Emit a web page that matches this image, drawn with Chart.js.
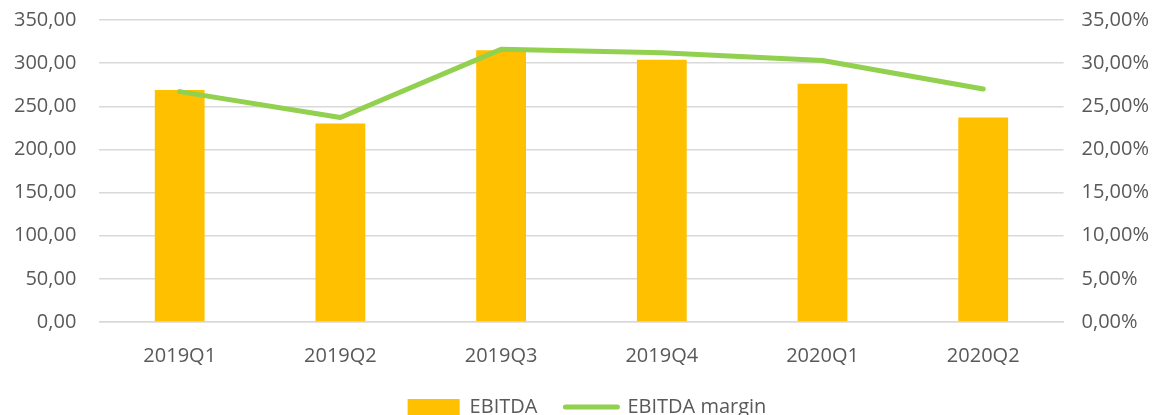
<!DOCTYPE html>
<html>
<head>
<meta charset="utf-8">
<script src="https://cdn.jsdelivr.net/npm/chart.js@4/dist/chart.umd.min.js"></script>
<style>
    html, body { margin: 0; padding: 0; background: #fff; overflow: hidden; }
    #wrap { width: 1158px; height: 427px; }
</style>
</head>
<body>
<div id="wrap"><canvas id="ebitda-chart" width="1158" height="427"></canvas></div>
<script>
const quarters = ['2019Q1', '2019Q2', '2019Q3', '2019Q4', '2020Q1', '2020Q2']
const ebitda = [269, 230, 315, 304, 276, 237]
const ebitdaMargin = [26.7, 23.7, 31.6, 31.2, 30.3, 27.0]

const leftTicks = [0, 50, 100, 150, 200, 250, 300, 350]
const rightTicks = [0, 5, 10, 15, 20, 25, 30, 35]

const textColor = '#595959'
const gridColor = '#d9d9d9'
const font = { family: 'Open Sans', size: 20 }

function comma(value) {
    return value.toFixed(2).replace('.', ',')
}

// keep the value axes from reserving extra room above and below the plot,
// and shift some width between them so the legend sits a bit to the right
function fitAxis(extraWidth) {
    return function (axis) {
        axis.paddingTop = 0
        axis.paddingBottom = 0
        axis.width += extraWidth
    }
}

const ctx = document.getElementById('ebitda-chart')
const myChart = new Chart(ctx, {
    data: {
        labels: quarters,
        datasets: [{
            type: 'line',
            label: 'EBITDA margin',
            data: ebitdaMargin,
            yAxisID: 'y1',
            borderColor: '#92d050',
            backgroundColor: '#92d050',
            borderWidth: 5,
            borderCapStyle: 'round',
            borderJoinStyle: 'round',
            pointRadius: 0,
            tension: 0,
            order: 1
        }, {
            type: 'bar',
            label: 'EBITDA',
            data: ebitda,
            yAxisID: 'y',
            backgroundColor: '#ffc000',
            barPercentage: 0.31,
            categoryPercentage: 1,
            order: 2
        }]
    },
    options: {
        responsive: false,
        animation: false,
        layout: { padding: { left: -1, right: -17, top: 20, bottom: 0 } },
        plugins: {
            tooltip: { enabled: false },
            legend: {
                position: 'bottom',
                reverse: true,
                labels: {
                    color: textColor,
                    font: font,
                    usePointStyle: true,
                    pointStyleWidth: 52,
                    boxHeight: 16,
                    padding: 28,
                    generateLabels: function (chart) {
                        const items = Chart.defaults.plugins.legend.labels.generateLabels(chart)
                        items.forEach(item => {
                            if (item.text === 'EBITDA') {
                                item.pointStyle = 'rect'
                                item.lineWidth = 0
                            } else {
                                item.pointStyle = 'line'
                                item.lineWidth = 5
                                item.lineCap = 'round'
                            }
                        })
                        return items
                    }
                }
            }
        },
        scales: {
            x: {
                grid: { display: false, drawTicks: false },
                border: { color: gridColor, width: 1.5 },
                ticks: { color: textColor, font: font, padding: 22 },
                afterFit: axis => { axis.height -= 21 }
            },
            y: {
                position: 'left',
                min: 0,
                max: 350,
                afterBuildTicks: axis => { axis.ticks = leftTicks.map(v => ({ value: v })) },
                afterFit: fitAxis(-8),
                grid: { color: gridColor, lineWidth: 1.5, drawTicks: false },
                border: { display: false },
                ticks: {
                    color: textColor,
                    font: font,
                    padding: 23,
                    callback: value => comma(value)
                }
            },
            y1: {
                position: 'right',
                min: 0,
                max: 35,
                afterBuildTicks: axis => { axis.ticks = rightTicks.map(v => ({ value: v })) },
                afterFit: fitAxis(8),
                grid: { display: false, drawTicks: false },
                border: { display: false },
                ticks: {
                    color: textColor,
                    font: font,
                    padding: 18,
                    callback: value => comma(value) + '%'
                }
            }
        }
    }
})
</script>
</body>
</html>
